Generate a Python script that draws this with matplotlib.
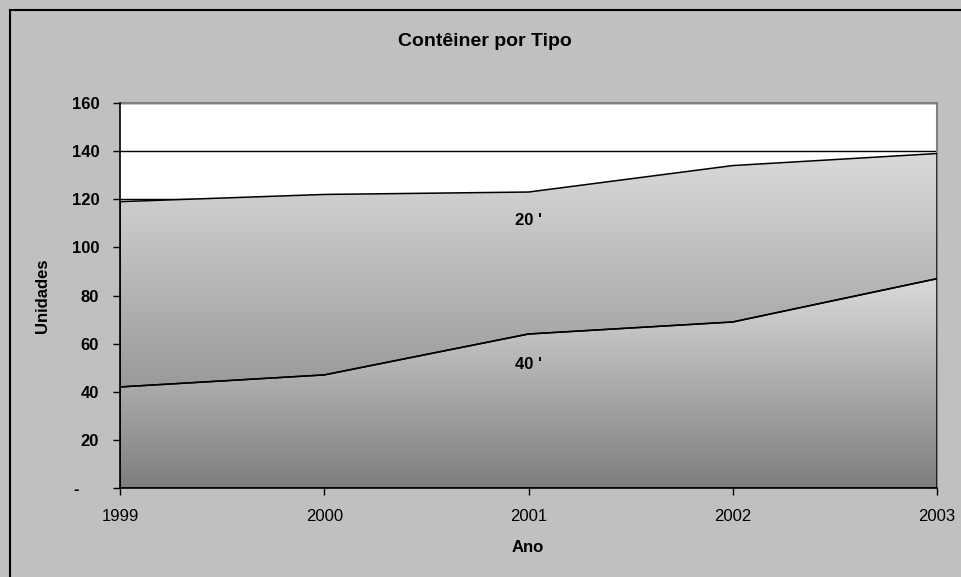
import numpy as np
import matplotlib
matplotlib.use("Agg")
from matplotlib import pyplot as plt
from matplotlib.colors import LinearSegmentedColormap
from matplotlib.patches import Rectangle
from matplotlib.transforms import ScaledTranslation

# Containers handled per year, by type (units)
anos = [1999, 2000, 2001, 2002, 2003]
cont_40 = [42, 47, 64, 69, 87]
cont_20 = [77, 75, 59, 65, 52]
y_ticks = [0, 20, 40, 60, 80, 100, 120, 140, 160]
y_labels = ['-', '20', '40', '60', '80', '100', '120', '140', '160']

plt.rcParams['font.family'] = ['Liberation Sans', 'DejaVu Sans']

W, H = 961, 577
fig = plt.figure(figsize=(W / 100, H / 100), dpi=100)
fig.patch.set_facecolor('#c0c0c0')

# chart frame (only top and left edges fall inside the image)
fig.patches.append(Rectangle((10 / W, -0.2), 2, 1.2 - 10 / H, transform=fig.transFigure,
                             fill=False, edgecolor='black', linewidth=1.5))

ax = fig.add_axes([120 / W, (H - 488) / H, 817 / W, 385 / H])
ax.set_facecolor('white')

cmap = LinearSegmentedColormap.from_list('cinza', ['#7e7e7e', '#dadada'])
grad = np.linspace(0, 1, 256).reshape(-1, 1)


# area with a vertical gradient running from the axis up to the series' peak
def gradient_area(x, lower, upper):
    poly = ax.fill_between(x, lower, upper, facecolor='none', edgecolor='black',
                           linewidth=1.1, zorder=4)
    im = ax.imshow(grad, extent=[x[0], x[-1], 0, max(upper)], origin='lower',
                   cmap=cmap, aspect='auto', zorder=3, interpolation='bilinear')
    im.set_clip_path(poly.get_paths()[0], ax.transData)


x = np.array(anos, dtype=float)
base = np.zeros(len(anos))
low = np.array(cont_40, dtype=float)
total = low + np.array(cont_20, dtype=float)
gradient_area(x, base, low)
gradient_area(x, low, total)

ax.set_xlim(anos[0], anos[-1])
ax.set_ylim(0, 160)
ax.set_xticks(anos)
ax.set_xticklabels([str(a) for a in anos], fontsize=12)
ax.set_yticks(y_ticks)
ax.set_yticklabels(y_labels, fontsize=12, fontweight='bold')
ax.tick_params(axis='y', direction='out', length=5, width=1, pad=10)
ax.tick_params(axis='x', direction='out', length=5, width=1, pad=10)

# the dash for zero sits further left, as in the number format
zero_lbl = ax.get_yticklabels()[0]
zero_lbl.set_transform(zero_lbl.get_transform() + ScaledTranslation(-0.2, 0, fig.dpi_scale_trans))

for v in y_ticks[1:]:
    ax.axhline(v, color='black', linewidth=1, zorder=1)

for side in ['top', 'right']:
    ax.spines[side].set_color('#808080')
    ax.spines[side].set_linewidth(1.5)
for side in ['left', 'bottom']:
    ax.spines[side].set_color('black')
    ax.spines[side].set_linewidth(1.2)
    ax.spines[side].set_zorder(5)

ax.text(2001, 111, "20 '", ha='center', va='center', fontsize=12, fontweight='bold', zorder=6)
ax.text(2001, 51.5, "40 '", ha='center', va='center', fontsize=12, fontweight='bold', zorder=6)

fig.text(485 / W, 1 - 42 / H, 'Contêiner por Tipo', ha='center', va='center',
         fontsize=14, fontweight='bold')
fig.text(528 / W, 1 - 548 / H, 'Ano', ha='center', va='center', fontsize=12, fontweight='bold')
fig.text(42 / W, 1 - 296 / H, 'Unidades', ha='center', va='center', rotation=90,
         fontsize=12, fontweight='bold')

fig.savefig('out.png', dpi=100, facecolor=fig.get_facecolor())
